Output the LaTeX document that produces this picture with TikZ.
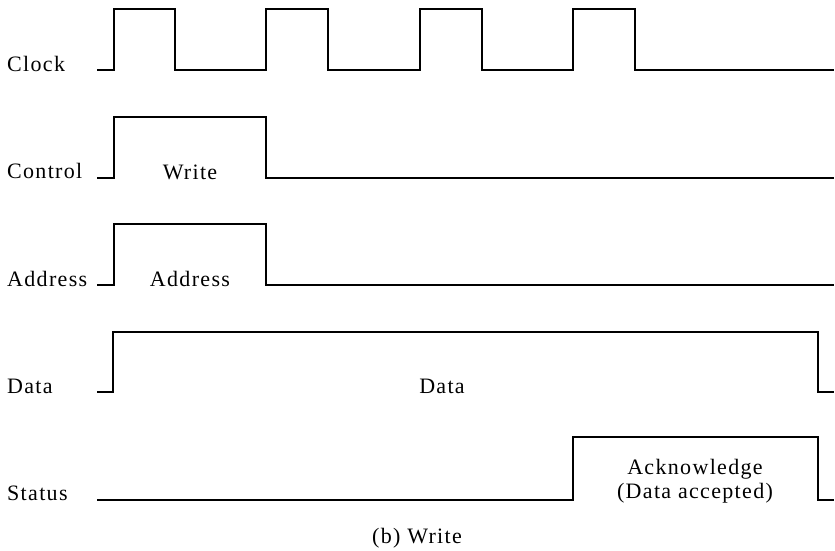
\documentclass[tikz,border=0pt]{standalone}
\usepackage{fontspec}
\setmainfont{Liberation Serif}[LetterSpace=6]
\begin{document}
\begin{tikzpicture}[x=1pt,y=-1pt,
  wave/.style={line width=1.3pt, line join=miter},
  lbl/.style={anchor=base west, inner sep=0pt, font=\fontsize{22}{25}\selectfont},
  txt/.style={anchor=base, inner sep=0pt, font=\fontsize{22}{25}\selectfont}]
\useasboundingbox (0,0) rectangle (835,550);
% Clock
\node[lbl] (lclock) at (7,71) {Clock};
\draw[wave] (97,70) -- (114,70) -- (114,9) -- (175,9) -- (175,70) -- (266,70) -- (266,9) -- (328,9) -- (328,70)
  -- (420,70) -- (420,9) -- (482,9) -- (482,70) -- (573,70) -- (573,9) -- (635,9) -- (635,70) -- (834,70);
% Control
\node[lbl] (lcontrol) at (7,178) {Control};
\draw[wave] (97,178) -- (114,178) -- (114,117) -- (266,117) -- (266,178) -- (834,178);
\node[txt] (twrite) at (190,179) {Write};
% Address
\node[lbl] (laddress) at (7,286) {Address};
\draw[wave] (97,285) -- (114,285) -- (114,224) -- (266,224) -- (266,285) -- (834,285);
\node[txt] (taddress) at (190,286) {Address};
% Data
\node[lbl] (ldata) at (7,393) {Data};
\draw[wave] (97,392) -- (113,392) -- (113,332) -- (818,332) -- (818,392) -- (834,392);
\node[txt] (tdata) at (442,393) {Data};
% Status
\node[lbl] (lstatus) at (7,500) {Status};
\draw[wave] (97,500) -- (573,500) -- (573,437) -- (818,437) -- (818,500) -- (834,500);
\node[txt] (tack) at (695,474) {Acknowledge};
\node[txt] (tacc) at (695,498) {(Data accepted)};
% Caption
\node[txt] (cap) at (417,543) {(b) Write};
\end{tikzpicture}
\end{document}
